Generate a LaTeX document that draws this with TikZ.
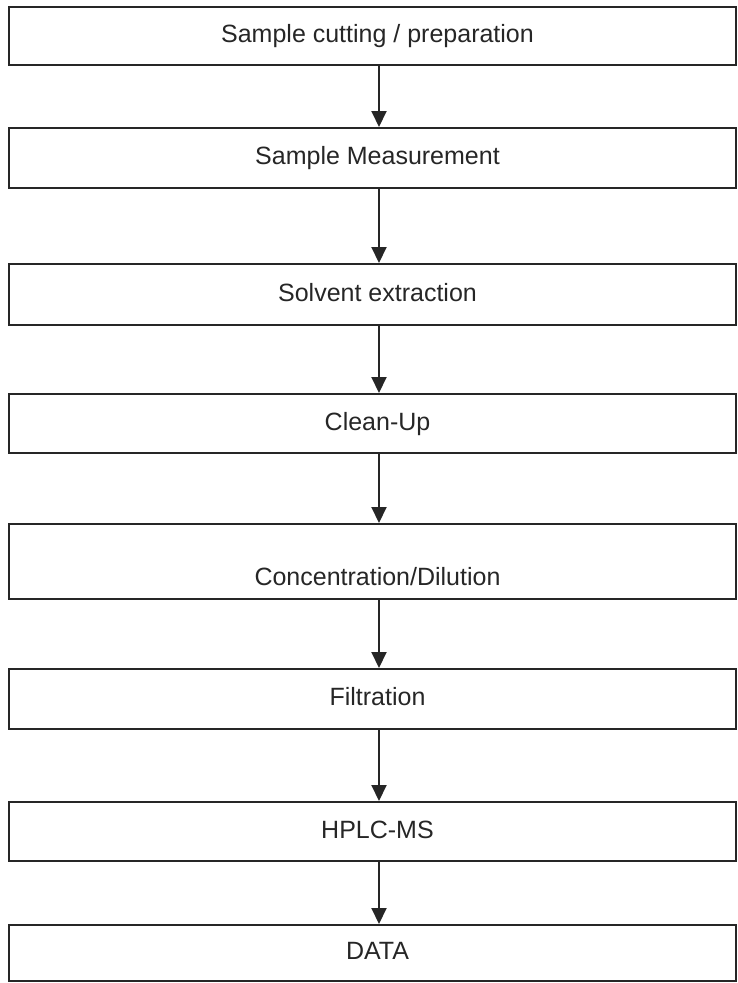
\documentclass[tikz,border=0pt]{standalone}
\usepackage{fontspec}
\setmainfont{Liberation Sans}
\usetikzlibrary{arrows.meta}

\begin{document}
\begin{tikzpicture}[x=1pt, y=-1pt,
	stepbox/.style={draw=black!85, line width=2pt, rectangle, minimum width=727pt, inner sep=0pt,
		font=\fontsize{25}{30}\selectfont, text=black!85, text height=18pt, text depth=5pt,
		execute at begin node={\hspace*{10pt}}},
	flow/.style={->, >={Triangle[width=15pt,length=16pt]}, draw=black!85, line width=2pt}]
				\useasboundingbox (0,0) rectangle (738,983);
				\node[stepbox, minimum height=58pt] (cut)at(372.5, 36) {Sample cutting / preparation};
				\node[stepbox, minimum height=60pt] (meas)at(372.5, 158) {Sample Measurement};
				\node[stepbox, minimum height=61pt] (extr)at(372.5, 294.5) {Solvent extraction};
				\node[stepbox, minimum height=59pt] (clean)at(372.5, 423.5) {Clean-Up};
				\node[stepbox, minimum height=75pt, text height=52pt] (conc)at(372.5, 561.5) {Concentration/Dilution};
				\node[stepbox, minimum height=60pt] (filt)at(372.5, 699) {Filtration};
				\node[stepbox, minimum height=59pt] (hplc)at(372.5, 831.5) {HPLC-MS};
				\node[stepbox, minimum height=56pt] (data)at(372.5, 953) {DATA};
				\coordinate (axis) at (379, 0);
				\draw[flow] (cut.south -| axis) -- (meas.north -| axis);
				\draw[flow] (meas.south -| axis) -- (extr.north -| axis);
				\draw[flow] (extr.south -| axis) -- (clean.north -| axis);
				\draw[flow] (clean.south -| axis) -- (conc.north -| axis);
				\draw[flow] (conc.south -| axis) -- (filt.north -| axis);
				\draw[flow] (filt.south -| axis) -- (hplc.north -| axis);
				\draw[flow] (hplc.south -| axis) -- (data.north -| axis);
			\end{tikzpicture}
\end{document}
